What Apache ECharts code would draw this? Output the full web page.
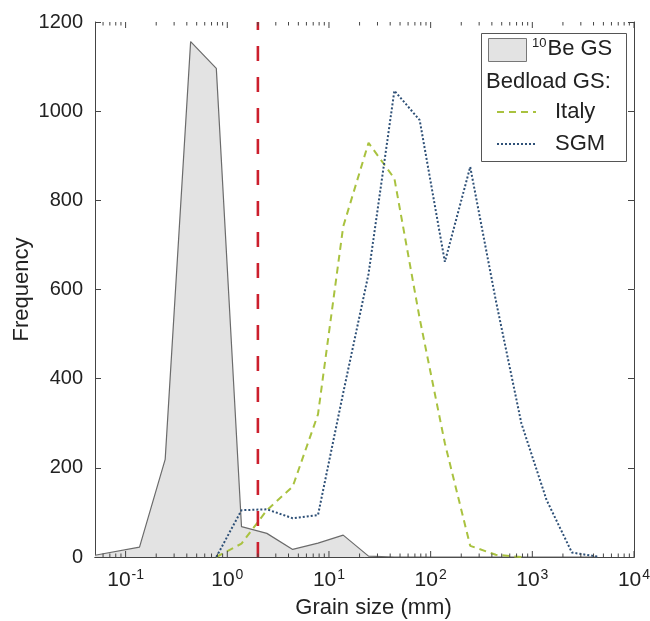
<!DOCTYPE html>
<html>
<head>
<meta charset="utf-8">
<script src="https://cdn.jsdelivr.net/npm/echarts@6/dist/echarts.min.js"></script>
<style>
html,body{margin:0;padding:0;background:#fff;}
#chart{width:650px;height:621px;}
</style>
</head>
<body>
<div id="chart"></div>
<script>
// Grain size bins (mm) and frequencies
const beGrain = [0.05, 0.137, 0.245, 0.436, 0.78, 1.38, 2.45, 4.4, 7.8, 13.8, 24.5, 44, 78, 138, 245, 437, 780, 1380, 2450, 4380];
const beFreq  = [4, 22, 219, 1156, 1096, 68, 53, 17, 31, 49, 2, 0, 0, 0, 0, 0, 0, 0, 0, 0];

const italyGrain = [0.78, 1.38, 2.45, 4.4, 7.8, 13.8, 24.5, 44, 78, 138, 245, 437, 780];
const italyFreq  = [0, 30, 105, 158, 320, 741, 929, 849, 535, 255, 25, 5, 0];

const sgmGrain = [0.78, 1.38, 2.45, 4.4, 7.8, 13.8, 24.5, 44, 78, 138, 245, 437, 780, 1380, 2450, 4380];
const sgmFreq  = [0, 105, 107, 87, 94, 368, 635, 1046, 980, 662, 875, 576, 300, 128, 10, 1];

const thresholdGrain = 2; // red dashed line (mm)

const xTickExponents = [-1, 0, 1, 2, 3, 4];
const majorTickValues = [0.1, 1, 10, 100, 1000, 10000];
const yTicks = [0, 200, 400, 600, 800, 1000, 1200];
const minorTickValues = [0.06, 0.07, 0.08, 0.09,
  0.2, 0.3, 0.4, 0.5, 0.6, 0.7, 0.8, 0.9,
  2, 3, 4, 5, 6, 7, 8, 9,
  20, 30, 40, 50, 60, 70, 80, 90,
  200, 300, 400, 500, 600, 700, 800, 900,
  2000, 3000, 4000, 5000, 6000, 7000, 8000, 9000];

const FONT = 'Liberation Sans, Arial, Helvetica, sans-serif';
const AX = '#444';

function pairs(xs, ys) { return xs.map((x, i) => [x, ys[i]]); }

const chart = echarts.init(document.getElementById('chart'), null, {renderer: 'canvas'});

function xLabel(v) {
  const e = Math.round(Math.log10(v));
  if (Math.abs(Math.log10(v) - e) > 1e-6 || xTickExponents.indexOf(e) < 0) return '';
  return '10{s|' + e + '}';
}

const tickData = minorTickValues.map(v => [v, 0, 3.5]).concat(majorTickValues.map(v => [v, 0, 6]));

const option = {
  animation: false,
  backgroundColor: '#fff',
  textStyle: {fontFamily: FONT},
  grid: {left: 95, right: 16, top: 22, bottom: 64, show: false, containLabel: false, outerBoundsMode: 'none'},
  xAxis: [{
    type: 'log', logBase: 10, min: 0.05, max: 10000,
    position: 'bottom',
    name: 'Grain size (mm)', nameLocation: 'middle', nameGap: 40, nameMoveOverlap: false,
    nameTextStyle: {fontSize: 22, color: '#222', fontFamily: FONT, padding: [0, 0, 0, 18]},
    axisLine: {show: true, lineStyle: {color: AX, width: 1}},
    axisTick: {show: false},
    splitLine: {show: false},
    axisLabel: {
      show: true, margin: 11, color: '#222', fontSize: 21, fontFamily: FONT,
      formatter: xLabel,
      showMinLabel: true, showMaxLabel: true,
      rich: {s: {fontSize: 14, verticalAlign: 'top', color: '#222', fontFamily: FONT, padding: [0, 0, 10, 1]}}
    }
  }, {
    type: 'log', logBase: 10, min: 0.05, max: 10000,
    position: 'top',
    axisLine: {show: true, lineStyle: {color: AX, width: 1}},
    axisTick: {show: false},
    axisLabel: {show: false},
    splitLine: {show: false}
  }],
  yAxis: [{
    type: 'value', min: 0, max: 1200, interval: 200,
    name: 'Frequency', nameLocation: 'middle', nameGap: 62, nameRotate: 90, nameMoveOverlap: false,
    nameTextStyle: {fontSize: 22, color: '#222', fontFamily: FONT},
    axisLine: {show: true, lineStyle: {color: AX, width: 1}},
    axisTick: {show: true, inside: true, length: 6, lineStyle: {color: AX}},
    axisLabel: {color: '#222', fontSize: 20, margin: 12, fontFamily: FONT,
      formatter: v => (yTicks.indexOf(v) >= 0 ? String(v) : '')},
    splitLine: {show: false}
  }, {
    type: 'value', min: 0, max: 1200, interval: 200, position: 'right',
    axisLine: {show: true, lineStyle: {color: AX, width: 1}},
    axisTick: {show: true, inside: true, length: 6, lineStyle: {color: AX}},
    axisLabel: {show: false},
    splitLine: {show: false}
  }],
  series: [
    {
      name: '10Be GS', type: 'line', xAxisIndex: 0, yAxisIndex: 0,
      data: pairs(beGrain, beFreq), symbol: 'none', z: 1,
      lineStyle: {color: '#6b6b6b', width: 1.2},
      areaStyle: {color: '#e3e3e3', opacity: 1}
    },
    {
      name: 'Italy', type: 'line', xAxisIndex: 0, yAxisIndex: 0,
      data: pairs(italyGrain, italyFreq), symbol: 'none', z: 3,
      lineStyle: {color: '#a9c23f', width: 2, type: [7, 5]}
    },
    {
      name: 'SGM', type: 'line', xAxisIndex: 0, yAxisIndex: 0,
      data: pairs(sgmGrain, sgmFreq), symbol: 'none', z: 4,
      lineStyle: {color: '#2e5077', width: 2, type: [2, 2]}
    },
    {
      name: 'threshold', type: 'line', xAxisIndex: 0, yAxisIndex: 0,
      data: [[thresholdGrain, 0], [thresholdGrain, 1200]], symbol: 'none', z: 5,
      lineStyle: {color: '#cc1f2d', width: 2.6, type: [15, 16]}
    },
    {
      name: 'xTicks', type: 'custom', xAxisIndex: 0, yAxisIndex: 0, z: 6,
      silent: true, clip: false,
      data: tickData,
      encode: {x: 0, y: 1},
      renderItem: function (params, api) {
        const v = api.value(0);
        const len = api.value(2);
        const b = api.coord([v, 0]);
        const t = api.coord([v, 1200]);
        const st = {stroke: AX, lineWidth: 1};
        return {type: 'group', children: [
          {type: 'line', shape: {x1: b[0], y1: b[1], x2: b[0], y2: b[1] - len}, style: st},
          {type: 'line', shape: {x1: t[0], y1: t[1], x2: t[0], y2: t[1] + len}, style: st}
        ]};
      }
    }
  ],
  graphic: [
    {type: 'rect', shape: {x: 481.5, y: 33.5, width: 145, height: 128}, style: {fill: '#fff', stroke: '#555', lineWidth: 1}, z: 100},
    {type: 'rect', shape: {x: 488.5, y: 38.5, width: 38, height: 23}, style: {fill: '#e3e3e3', stroke: '#777', lineWidth: 1}, z: 101},
    {type: 'text', x: 532, y: 37, z: 101, style: {
      text: '{s|10}{b|Be GS}', fill: '#222', font: '22px ' + FONT,
      rich: {s: {fontSize: 13, verticalAlign: 'top', fill: '#222', fontFamily: FONT, padding: [0, 1, 10, 0]}, b: {fontSize: 22, fill: '#222', fontFamily: FONT}}
    }},
    {type: 'text', x: 486, y: 71, z: 101, style: {text: 'Bedload GS:', fill: '#222', font: '22px ' + FONT}},
    {type: 'line', shape: {x1: 497, y1: 112, x2: 536, y2: 112}, z: 101, style: {stroke: '#a9c23f', lineWidth: 2, lineDash: [7, 5]}},
    {type: 'text', x: 555, y: 101, z: 101, style: {text: 'Italy', fill: '#222', font: '22px ' + FONT}},
    {type: 'line', shape: {x1: 497, y1: 144, x2: 536, y2: 144}, z: 101, style: {stroke: '#2e5077', lineWidth: 2, lineDash: [2, 2]}},
    {type: 'text', x: 555, y: 133, z: 101, style: {text: 'SGM', fill: '#222', font: '22px ' + FONT}}
  ]
};
chart.setOption(option);
</script>
</body>
</html>
